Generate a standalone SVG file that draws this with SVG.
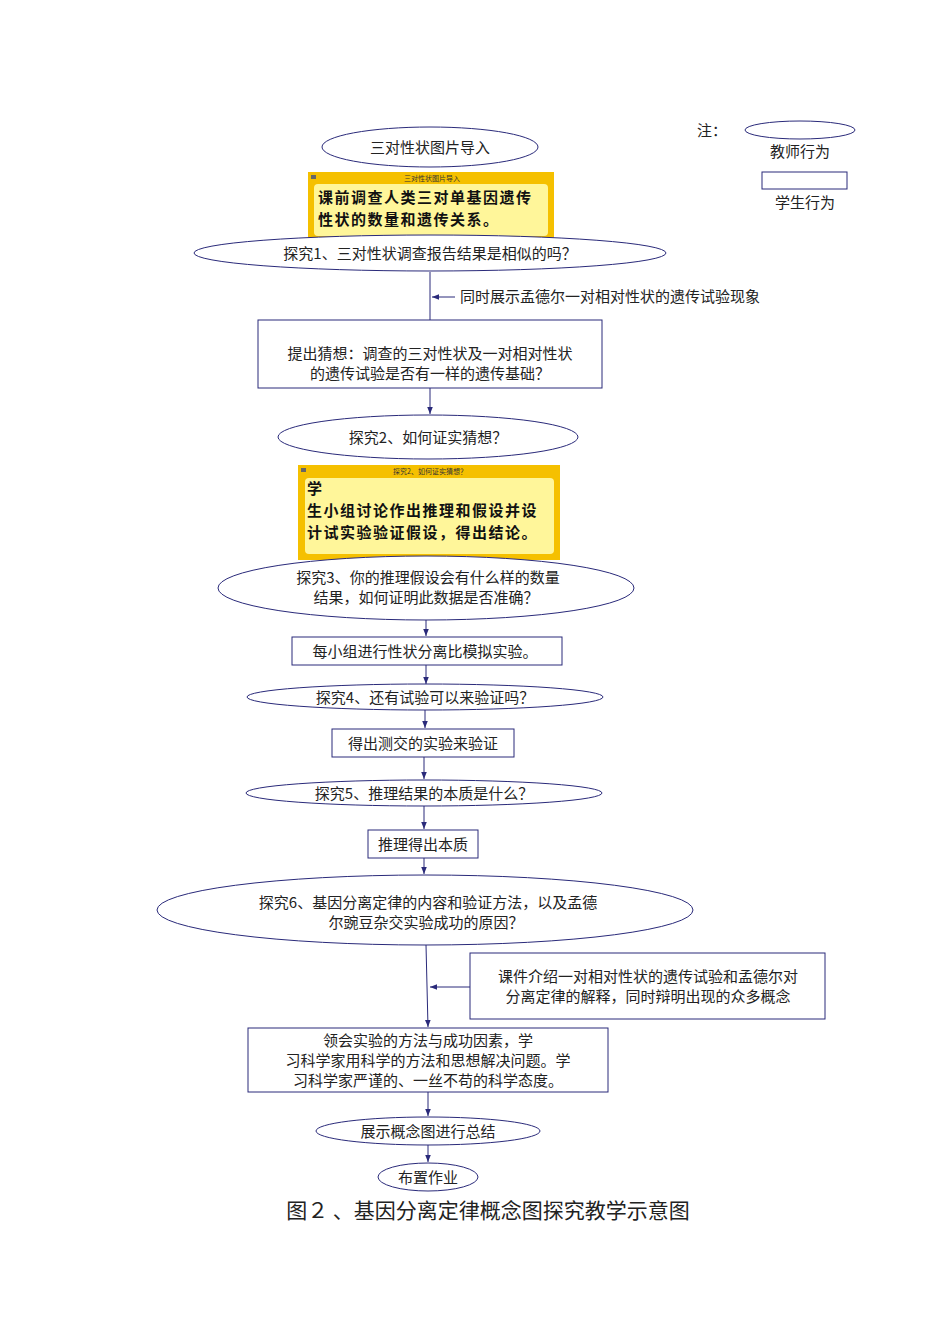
<svg xmlns="http://www.w3.org/2000/svg" width="950" height="1342" viewBox="0 0 950 1342">
<style>
.n{fill:#fff;stroke:#2a2a7a;stroke-width:1}
.t{font-family:"Noto Sans CJK SC",sans-serif;font-size:15px;fill:#222;text-anchor:middle}
.b{font-family:"Noto Sans CJK SC",sans-serif;font-size:15px;font-weight:bold;fill:#111;letter-spacing:1.5px}
.s{font-family:"Noto Sans CJK SC",sans-serif;font-size:7px;fill:#333;text-anchor:middle}
.c{stroke:#2a2a7a;stroke-width:1;fill:none;marker-end:url(#a)}
.y{fill:#f5c000}.yi{fill:#fff69a}
</style>
<defs><marker id="a" viewBox="0 0 10 10" refX="10" refY="5" markerWidth="7" markerHeight="7" orient="auto"><path d="M0,1 L10,5 L0,9 z" fill="#2a2a7a"/></marker></defs>
<rect width="950" height="1342" fill="#fff"/>
<g id="legend">
<text x="712" y="136" class="t">注：</text>
<ellipse cx="800" cy="130" rx="55" ry="9" class="n"/>
<text x="800" y="157" class="t">教师行为</text>
<rect x="762" y="172" width="85" height="17" class="n"/>
<text x="805" y="208" class="t">学生行为</text>
</g>
<g id="connectors">
<line x1="430" y1="272" x2="430" y2="320" stroke="#2a2a7a"/>
<line x1="455" y1="297" x2="432" y2="297" class="c"/>
<line x1="430" y1="388" x2="430" y2="414" class="c"/>
<line x1="426" y1="620" x2="426" y2="636" class="c"/>
<line x1="426" y1="665" x2="426" y2="684" class="c"/>
<line x1="425" y1="710" x2="425" y2="728" class="c"/>
<line x1="424" y1="757" x2="424" y2="779" class="c"/>
<line x1="424" y1="806" x2="424" y2="829" class="c"/>
<line x1="424" y1="858" x2="424" y2="874" class="c"/>
<line x1="426" y1="945" x2="428" y2="1027" class="c"/>
<line x1="470" y1="987" x2="430" y2="987" class="c"/>
<line x1="428" y1="1092" x2="428" y2="1116" class="c"/>
<line x1="428" y1="1145" x2="428" y2="1162" class="c"/>
</g>
<g id="n1"><ellipse cx="430" cy="147" rx="108" ry="20" class="n"/><text x="430" y="153" class="t">三对性状图片导入</text></g>
<g id="note1"><rect x="308" y="172" width="246" height="70" class="y"/><rect x="314" y="184" width="234" height="52" rx="4" class="yi"/><rect x="311" y="175" width="5" height="4" fill="#666"/><text x="432" y="181" class="s">三对性状图片导入</text><text x="318" y="203" class="b">课前调查人类三对单基因遗传</text><text x="318" y="225" class="b">性状的数量和遗传关系。</text></g>
<g id="n2"><ellipse cx="430" cy="253" rx="236" ry="18" class="n"/><text x="430" y="259" class="t">探究1、三对性状调查报告结果是相似的吗？</text></g>
<text x="460" y="302" class="t" style="text-anchor:start">同时展示孟德尔一对相对性状的遗传试验现象</text>
<g id="n3"><rect x="258" y="320" width="344" height="68" class="n"/><text x="430" y="359" class="t">提出猜想：调查的三对性状及一对相对性状</text><text x="430" y="379" class="t">的遗传试验是否有一样的遗传基础？</text></g>
<g id="n4"><ellipse cx="428" cy="437" rx="150" ry="22" class="n"/><text x="428" y="443" class="t">探究2、如何证实猜想？</text></g>
<g id="note2"><rect x="298" y="465" width="262" height="95" class="y"/><rect x="305" y="478" width="249" height="76" rx="4" class="yi"/><rect x="301" y="468" width="5" height="4" fill="#666"/><text x="430" y="474" class="s">探究2、如何证实猜想？</text><text x="307" y="494" class="b">学</text><text x="307" y="516" class="b">生小组讨论作出推理和假设并设</text><text x="307" y="538" class="b">计试实验验证假设，得出结论。</text></g>
<g id="n5"><ellipse cx="426" cy="588" rx="208" ry="32" class="n"/><text x="428" y="583" class="t">探究3、你的推理假设会有什么样的数量</text><text x="426" y="603" class="t">结果，如何证明此数据是否准确？</text></g>
<g id="n6"><rect x="292" y="637" width="270" height="28" class="n"/><text x="425" y="657" class="t">每小组进行性状分离比模拟实验。</text></g>
<g id="n7"><ellipse cx="425" cy="697" rx="178" ry="13" class="n"/><text x="425" y="703" class="t">探究4、还有试验可以来验证吗？</text></g>
<g id="n8"><rect x="332" y="729" width="182" height="28" class="n"/><text x="423" y="749" class="t">得出测交的实验来验证</text></g>
<g id="n9"><ellipse cx="424" cy="793" rx="178" ry="13" class="n"/><text x="424" y="799" class="t">探究5、推理结果的本质是什么？</text></g>
<g id="n10"><rect x="368" y="830" width="110" height="28" class="n"/><text x="423" y="850" class="t">推理得出本质</text></g>
<g id="n11"><ellipse cx="425" cy="910" rx="268" ry="35" class="n"/><text x="428" y="908" class="t">探究6、基因分离定律的内容和验证方法，以及孟德</text><text x="426" y="928" class="t">尔豌豆杂交实验成功的原因？</text></g>
<g id="n12"><rect x="470" y="953" width="355" height="66" class="n"/><text x="648" y="982" class="t">课件介绍一对相对性状的遗传试验和孟德尔对</text><text x="648" y="1002" class="t">分离定律的解释，同时辩明出现的众多概念</text></g>
<g id="n13"><rect x="248" y="1028" width="360" height="64" class="n"/><text x="428" y="1046" class="t">领会实验的方法与成功因素，学</text><text x="428" y="1066" class="t">习科学家用科学的方法和思想解决问题。学</text><text x="428" y="1086" class="t">习科学家严谨的、一丝不苟的科学态度。</text></g>
<g id="n14"><ellipse cx="428" cy="1131" rx="112" ry="14" class="n"/><text x="428" y="1137" class="t">展示概念图进行总结</text></g>
<g id="n15"><ellipse cx="428" cy="1177" rx="50" ry="14" class="n"/><text x="428" y="1183" class="t">布置作业</text></g>
<text x="488" y="1218" class="t" style="font-size:21px">图２ 、基因分离定律概念图探究教学示意图</text>
</svg>
